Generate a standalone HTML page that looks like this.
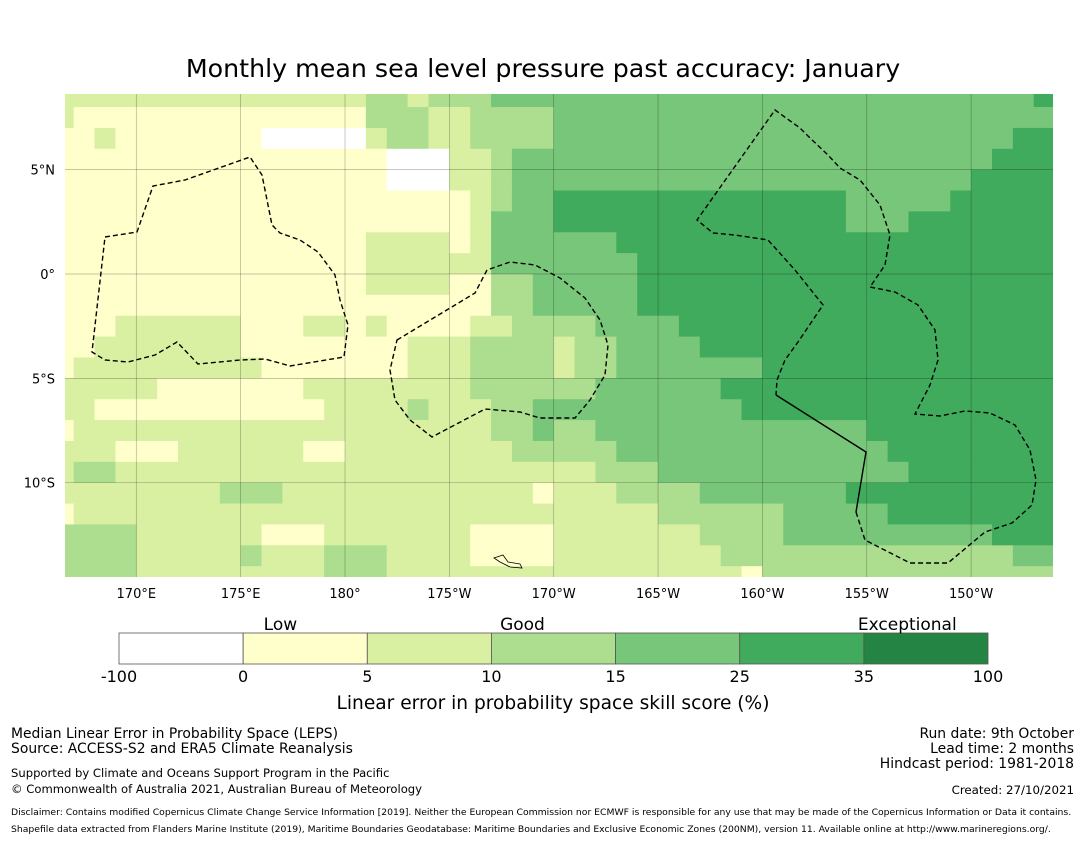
<!DOCTYPE html>
<html><head><meta charset="utf-8"><style>
html,body{margin:0;padding:0;background:#fff;}
body{width:1085px;height:839px;overflow:hidden;font-family:"DejaVu Sans","Liberation Sans",sans-serif;}
svg text{font-family:"DejaVu Sans","Liberation Sans",sans-serif;}
</style></head><body>
<svg id="chart" width="1085" height="839" viewBox="0 0 1085 839">
<text x="543" y="77" text-anchor="middle" font-size="25.3">Monthly mean sea level pressure past accuracy: January</text>
<defs><clipPath id="mapclip"><rect x="65" y="94" width="988" height="483"/></clipPath></defs>
<g id="map" clip-path="url(#mapclip)"></g>
<g id="grid"></g>
<g clip-path="url(#mapclip)" fill="none" stroke="#000" stroke-width="1.4">
<path stroke-dasharray="5,3" d="M105,237 L137,232 L153,186 L185,180 L250,157 L262,175 L272,225 L280,233 L300,240 L318,252 L335,275 L340,300 L348,325 L344,357 L290,366 L265,359 L240,360 L198,364 L177,342 L155,355 L128,362 L105,360 L92,352 Z"/>
<path stroke-dasharray="5,3" d="M397,340 L475,293 L487,270 L510,262 L535,265 L560,278 L585,298 L600,320 L608,345 L605,375 L590,400 L575,418 L540,418 L520,412 L485,409 L432,437 L410,420 L395,400 L390,370 Z"/>
<path stroke-dasharray="5,3" d="M856,512 L865,540 L910,563 L948,563 L985,532 L1012,523 L1032,505 L1036,480 L1030,450 L1015,425 L990,413 L965,411 L940,416 L915,414 L930,385 L938,360 L935,330 L918,305 L895,292 L870,287 L885,265 L890,235 L880,205 L860,180 L840,168 L828,155 L810,138 L800,128 L775,110 L697,220 L713,233 L735,235 L768,240 L795,270 L823,305 L798,342 L785,360 L777,380 L776,395"/>
<path d="M776,395 L866,452 L856,512"/>
<path stroke-width="0.8" d="M494,558 L503,555 L508,562 L520,564 L522,568 L510,567 L500,562 Z"/>
</g>
<g id="axes"></g>
<g id="cbar"></g>
<text x="553" y="709" text-anchor="middle" font-size="18.6">Linear error in probability space skill score (%)</text>
<g font-size="13.9">
<text x="11" y="738">Median Linear Error in Probability Space (LEPS)</text>
<text x="11" y="753">Source: ACCESS-S2 and ERA5 Climate Reanalysis</text>
<text x="11" y="777" font-size="11.6">Supported by Climate and Oceans Support Program in the Pacific</text>
<text x="11" y="793" font-size="11.6">© Commonwealth of Australia 2021, Australian Bureau of Meteorology</text>
<text x="11" y="815" font-size="9.25">Disclaimer: Contains modified Copernicus Climate Change Service Information [2019]. Neither the European Commission nor ECMWF is responsible for any use that may be made of the Copernicus Information or Data it contains.</text>
<text x="11" y="832" font-size="9.25">Shapefile data extracted from Flanders Marine Institute (2019), Maritime Boundaries Geodatabase: Maritime Boundaries and Exclusive Economic Zones (200NM), version 11. Available online at http://www.marineregions.org/.</text>
</g>
<g font-size="13.9" text-anchor="end">
<text x="1074" y="738">Run date: 9th October</text>
<text x="1074" y="753">Lead time: 2 months</text>
<text x="1074" y="768">Hindcast period: 1981-2018</text>
<text x="1074" y="794" font-size="11.8">Created: 27/10/2021</text>
</g>
</svg>
<script>
const NS='http://www.w3.org/2000/svg';
const palette=['#ffffff','#ffffcc','#d9f0a3','#addd8e','#78c679','#41ab5d','#238443'];
const binLabels=['-100','0','5','10','15','25','35','100'];
const qualLabels=['Low','Good','Exceptional'];
const qualPositions=[1.3,3.25,6.35];
const lonTicks=[170,175,180,185,190,195,200,205,210];
const lonTickLabels=['170°E','175°E','180°','175°W','170°W','165°W','160°W','155°W','150°W'];
const latTicks=[5,0,-5,-10];
const latTickLabels=['5°N','0°','5°S','10°S'];
const gridLon0=166;
const gridLat0=9;
const gridRows=[
[[2,15],[3,2],[2,1],[3,3],[4,26],[5,1]],
[[2,1],[1,14],[3,3],[2,2],[3,4],[4,24]],
[[1,2],[2,1],[1,7],[0,5],[2,1],[3,2],[2,2],[3,4],[4,22],[5,2]],
[[1,16],[0,3],[2,2],[3,1],[4,23],[5,3]],
[[1,16],[0,3],[2,2],[3,1],[4,22],[5,4]],
[[1,20],[2,1],[3,1],[4,2],[5,14],[4,5],[5,5]],
[[1,20],[2,1],[4,3],[5,14],[4,3],[5,7]],
[[1,15],[2,4],[1,1],[2,1],[4,6],[5,21]],
[[1,15],[2,6],[4,7],[5,20]],
[[1,15],[2,4],[1,2],[3,2],[4,5],[5,20]],
[[1,21],[3,2],[4,5],[5,20]],
[[1,3],[2,6],[1,3],[2,2],[1,1],[2,1],[1,4],[2,2],[3,4],[4,4],[5,18]],
[[1,2],[2,7],[1,8],[2,3],[3,4],[2,1],[3,2],[4,4],[5,17]],
[[1,1],[2,9],[1,7],[2,3],[3,4],[2,1],[3,2],[4,7],[5,14]],
[[2,5],[1,7],[2,8],[3,4],[3,2],[4,6],[5,16]],
[[2,2],[1,11],[2,4],[3,1],[2,3],[3,2],[4,10],[5,15]],
[[1,1],[2,20],[3,2],[4,1],[3,2],[4,13],[5,9]],
[[2,3],[1,3],[2,6],[1,2],[2,8],[3,5],[4,13],[5,8]],
[[2,1],[3,2],[2,23],[3,3],[4,12],[5,7]],
[[2,8],[3,3],[2,12],[1,1],[2,3],[3,4],[4,7],[5,10]],
[[1,1],[2,28],[3,6],[4,5],[5,8]],
[[3,4],[2,6],[1,3],[2,7],[1,4],[2,7],[3,4],[4,10],[5,3]],
[[3,4],[2,5],[3,1],[2,3],[3,3],[2,4],[1,4],[2,8],[3,14],[4,2]],
[[3,4],[2,9],[3,3],[2,17],[1,1],[3,14]]
];
const PX=20.87;
function xOf(lon){return 345+(lon-180)*PX;}
function yOf(lat){return 274-lat*PX;}
const map=document.getElementById('map');
gridRows.forEach((row,j)=>{
  let i=0;
  row.forEach(([code,n])=>{
    const r=document.createElementNS(NS,'rect');
    const x0=xOf(gridLon0+i), x1=xOf(gridLon0+i+n);
    const y0=yOf(gridLat0-j), y1=yOf(gridLat0-j-1);
    r.setAttribute('x',x0.toFixed(2));r.setAttribute('y',y0.toFixed(2));
    r.setAttribute('width',(x1-x0+0.6).toFixed(2));r.setAttribute('height',(y1-y0+0.6).toFixed(2));
    r.setAttribute('fill',palette[code]);
    
    
    map.appendChild(r);
    i+=n;
  });
});
const grid=document.getElementById('grid');
function line(x1,y1,x2,y2,g){const l=document.createElementNS(NS,'line');l.setAttribute('x1',x1);l.setAttribute('y1',y1);l.setAttribute('x2',x2);l.setAttribute('y2',y2);l.setAttribute('stroke','rgba(0,0,0,0.3)');l.setAttribute('stroke-width','0.7');g.appendChild(l);return l;}
const axes=document.getElementById('axes');
lonTicks.forEach((lon,k)=>{
  const x=xOf(lon);
  const l=line(x,94,x,577,grid);
  
  
  const t=document.createElementNS(NS,'text');
  t.setAttribute('x',x);t.setAttribute('y',598);t.setAttribute('text-anchor','middle');t.setAttribute('font-size','13');
  t.textContent=lonTickLabels[k];
  
  
  axes.appendChild(t);
});
latTicks.forEach((lat,k)=>{
  const y=yOf(lat);
  const l=line(65,y,1053,y,grid);
  
  
  const t=document.createElementNS(NS,'text');
  t.setAttribute('x',55);t.setAttribute('y',y+5);t.setAttribute('text-anchor','end');t.setAttribute('font-size','13');
  t.textContent=latTickLabels[k];
  
  
  axes.appendChild(t);
});
const cb=document.getElementById('cbar');
const cbX=119,cbW=869,cbY=633,cbH=31,nb=palette.length,bw=cbW/nb;
palette.forEach((c,k)=>{
  const r=document.createElementNS(NS,'rect');
  r.setAttribute('x',cbX+k*bw);r.setAttribute('y',cbY);r.setAttribute('width',bw);r.setAttribute('height',cbH);
  r.setAttribute('fill',c);r.setAttribute('stroke','#555');r.setAttribute('stroke-width','0.8');
  
  
  cb.appendChild(r);
});
binLabels.forEach((s,k)=>{
  const t=document.createElementNS(NS,'text');
  t.setAttribute('x',cbX+k*bw);t.setAttribute('y',682);t.setAttribute('text-anchor','middle');t.setAttribute('font-size','16');
  t.textContent=s;
  
  
  cb.appendChild(t);
});
qualLabels.forEach((s,k)=>{
  const t=document.createElementNS(NS,'text');
  t.setAttribute('x',cbX+qualPositions[k]*bw);t.setAttribute('y',630);t.setAttribute('text-anchor','middle');t.setAttribute('font-size','17');
  t.textContent=s;
  
  
  cb.appendChild(t);
});
</script>
</body></html>
